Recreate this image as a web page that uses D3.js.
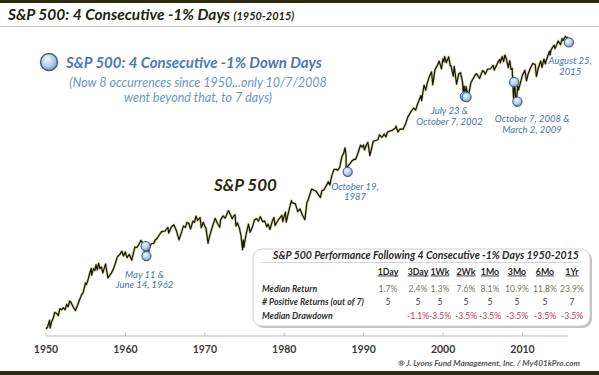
<!DOCTYPE html>
<html>
<head>
<meta charset="utf-8">
<script src="https://cdn.jsdelivr.net/npm/d3@7"></script>
<style>
  body { margin: 0; background: #fff; }
  svg { display: block; font-family: Lato, "Open Sans", sans-serif; }
</style>
</head>
<body>
<svg id="chart" width="599" height="375"></svg>
<script>
// ===============================
// Dades (S&P 500, lectura aproximada del gràfic)
// ===============================
const dates = [
  1950.00,1950.20,1950.45,1950.52,1950.70,1950.95,1951.10,1951.40,1951.55,1951.75,1951.95,
  1952.20,1952.40,1952.60,1952.80,1952.98,1953.10,1953.45,1953.70,1953.98,1954.20,1954.45,
  1954.70,1954.98,1955.10,1955.30,1955.55,1955.70,1955.75,1955.98,1956.15,1956.30,1956.45,
  1956.62,1956.80,1956.98,1957.15,1957.50,1957.80,1957.98,1958.20,1958.50,1958.75,1958.98,
  1959.30,1959.55,1959.75,1959.98,1960.20,1960.50,1960.80,1960.98,1961.20,1961.45,1961.70,
  1961.95,1962.15,1962.36,1962.48,1962.70,1962.82,1962.98,1963.25,1963.55,1963.75,1963.98,
  1964.30,1964.55,1964.98,1965.35,1965.46,1965.75,1966.10,1966.40,1966.75,1966.98,1967.30,
  1967.55,1967.75,1967.98,1968.20,1968.50,1968.70,1968.90,1969.10,1969.40,1969.55,1969.80,
  1969.98,1970.15,1970.40,1970.60,1970.98,1971.30,1971.60,1971.87,1971.98,1972.30,1972.55,
  1972.98,1973.20,1973.45,1973.60,1973.80,1973.92,1974.10,1974.35,1974.55,1974.75,1974.85,
  1974.93,1974.98,1975.25,1975.50,1975.70,1975.98,1976.25,1976.50,1976.75,1976.98,1977.30,
  1977.55,1977.80,1977.98,1978.20,1978.50,1978.70,1978.85,1978.98,1979.30,1979.70,1979.82,
  1979.98,1980.15,1980.25,1980.60,1980.90,1980.98,1981.40,1981.70,1981.98,1982.30,1982.60,
  1982.85,1982.98,1983.45,1983.80,1983.98,1984.40,1984.55,1984.75,1984.98,1985.30,1985.55,
  1985.75,1985.98,1986.25,1986.55,1986.70,1986.98,1987.25,1987.50,1987.65,1987.78,1987.80,
  1987.98,1988.30,1988.55,1988.80,1988.98,1989.30,1989.60,1989.80,1989.98,1990.10,1990.40,
  1990.53,1990.78,1990.98,1991.20,1991.50,1991.80,1991.98,1992.30,1992.60,1992.80,1992.98,
  1993.30,1993.60,1993.98,1994.08,1994.30,1994.60,1994.98,1995.30,1995.55,1995.98,1996.30,
  1996.55,1996.80,1996.98,1997.20,1997.30,1997.60,1997.82,1997.98,1998.30,1998.55,1998.70,
  1998.98,1999.30,1999.50,1999.80,1999.98,2000.10,2000.20,2000.40,2000.70,2000.90,2000.98,
  2001.20,2001.28,2001.40,2001.70,2001.98,2002.20,2002.45,2002.56,2002.65,2002.77,2002.90,
  2002.98,2003.20,2003.50,2003.98,2004.20,2004.60,2004.98,2005.20,2005.30,2005.60,2005.98,
  2006.30,2006.45,2006.98,2007.15,2007.20,2007.45,2007.62,2007.78,2007.98,2008.20,2008.40,
  2008.55,2008.70,2008.77,2008.88,2008.95,2008.98,2009.05,2009.17,2009.19,2009.40,2009.50,
  2009.98,2010.30,2010.50,2010.70,2010.98,2011.30,2011.60,2011.75,2011.98,2012.30,2012.45,
  2012.70,2012.88,2012.98,2013.40,2013.47,2013.60,2013.98,2014.09,2014.50,2014.79,2014.98,
  2015.10,2015.39,2015.55,2015.62,2015.65
];
const closes = [
  16.7,17.3,19.3,17.0,18.8,20.4,22.0,21.5,20.9,23.4,23.0,
  23.8,23.0,25.2,24.2,26.6,26.2,24.0,22.7,24.8,26.9,29.2,
  30.9,35.9,35.0,37.9,43.0,45.6,40.8,45.5,44.1,48.5,44.6,
  49.7,45.5,46.7,42.4,49.1,39.0,40.3,42.0,45.3,49.9,55.2,
  57.6,60.7,56.1,59.9,54.6,57.5,52.3,58.1,65.1,64.5,68.0,
  72.6,70.0,63.0,52.3,58.0,53.5,63.1,68.7,69.1,73.0,75.0,
  80.0,84.0,84.8,90.0,82.0,90.0,94.0,86.0,73.2,80.3,92.0,
  90.0,97.6,96.5,87.7,100.0,98.0,108.4,101.0,106.0,89.5,98.0,
  92.1,89.0,69.3,78.0,92.2,104.6,96.0,90.2,102.1,109.0,105.0,
  119.0,112.0,104.0,108.0,111.0,92.0,97.0,89.0,79.0,62.3,73.0,
  65.0,68.6,83.0,95.0,83.0,90.2,102.0,104.0,100.0,107.5,99.0,
  100.0,91.0,95.1,87.0,100.0,106.0,93.0,96.1,103.0,110.0,99.0,
  107.9,116.0,98.2,120.0,140.5,135.8,133.0,117.0,122.6,110.0,102.4,
  136.0,140.6,170.0,166.0,164.9,152.0,147.8,166.0,167.2,180.0,192.0,
  182.0,211.3,235.0,236.0,232.0,242.2,290.0,310.0,336.8,300.0,224.8,
  247.1,260.0,272.0,278.0,277.7,310.0,352.0,340.0,353.4,325.0,360.0,
  368.9,295.5,330.2,375.0,380.0,385.0,417.1,400.0,424.0,403.0,435.7,
  445.0,450.0,466.5,482.0,438.0,460.0,459.3,505.0,560.0,615.9,650.0,
  630.0,700.0,740.7,800.0,737.0,950.0,876.0,970.4,1110.0,1186.0,957.0,
  1229.2,1330.0,1418.0,1247.0,1469.3,1400.0,1527.0,1380.0,1520.0,1315.0,1320.3,
  1160.0,1103.0,1300.0,965.8,1148.1,1170.0,1000.0,797.0,937.0,776.8,930.0,
  879.8,800.7,990.0,1111.9,1150.0,1065.0,1211.9,1180.0,1140.0,1240.0,1248.3,
  1320.0,1223.0,1418.3,1460.0,1375.0,1530.0,1406.0,1565.2,1468.4,1273.0,1426.0,
  1234.0,1255.0,996.2,752.4,900.0,903.3,930.0,700.8,676.5,940.0,880.0,
  1115.1,1217.0,1022.0,1140.0,1257.6,1363.0,1340.0,1099.2,1257.6,1419.0,1278.0,
  1465.0,1353.0,1426.2,1669.0,1573.0,1709.0,1848.4,1741.9,1978.0,1862.0,2058.9,
  1992.0,2130.8,2080.0,2102.0,1867.6
];

// Esdeveniments: 4 dies consecutius de -1%
const eventDates  = [1962.36, 1962.46, 1987.80, 2002.56, 2002.77, 2008.77, 2009.17, 2015.65];
const eventValues = [66, 56, 226, 790, 780, 1000, 725, 1930];
const eventLabels = [
  { x: 1962.4, v: 39, lines: ["May 11 &", "June 14, 1962"] },
  { x: 1988.9, v: 168, lines: ["October 19,", "1987"] },
  { x: 2000.8, v: 585, lines: ["July 23 &", "October 7, 2002"] },
  { x: 2011.2, v: 515, lines: ["October 7, 2008 &", "March 2, 2009"] },
  { x: 2016.0, v: 1345, lines: ["August 25,", "2015"] }
];

const tickYears = [1950, 1960, 1970, 1980, 1990, 2000, 2010];

// Taula
const tableCols = ["1Day", "3Day", "1Wk", "2Wk", "1Mo", "3Mo", "6Mo", "1Yr"];
const medianReturn = ["1.7%", "2.4%", "1.3%", "7.6%", "8.1%", "10.9%", "11.8%", "23.9%"];
const positiveReturns = ["5", "5", "5", "5", "5", "5", "5", "7"];
const medianDrawdown = ["", "-1.1%", "-3.5%", "-3.5%", "-3.5%", "-3.5%", "-3.5%", "-3.5%"];

// ===============================
// Escales
// ===============================
const svg = d3.select("#chart");
const W = 599, H = 375;

const x = d3.scaleLinear().domain([1950, 2010]).range([46, 522.5]);
const y = d3.scaleLog().domain([17, 2130]).range([328, 36.5]);

const series = dates.map((d, i) => ({ t: d, v: closes[i] }));

// Gradient dels marcadors
const defs = svg.append("defs");
const grad = defs.append("radialGradient")
  .attr("id", "dot").attr("cx", "40%").attr("cy", "35%").attr("r", "65%");
grad.append("stop").attr("offset", "0%").attr("stop-color", "#f2f6fc");
grad.append("stop").attr("offset", "60%").attr("stop-color", "#b7cbea");
grad.append("stop").attr("offset", "100%").attr("stop-color", "#7f9fd0");

// ===============================
// Capçalera
// ===============================
svg.append("rect").attr("x", 0).attr("y", 0).attr("width", W).attr("height", 3).attr("fill", "#2c2b12");
svg.append("line").attr("x1", 0).attr("x2", W).attr("y1", 26.5).attr("y2", 26.5)
  .attr("stroke", "#c8c8c8").attr("stroke-width", 1);

const title = svg.append("text")
  .attr("x", 8).attr("y", 20)
  .style("font-weight", "bold").style("font-style", "italic")
  .style("fill", "#1e2410");
title.append("tspan").style("font-size", "15.5px").text("S&P 500: 4 Consecutive -1% Days ");
title.append("tspan").style("font-size", "11px").text("(1950-2015)");

// ===============================
// Eix X
// ===============================
svg.append("line")
  .attr("x1", x(1950)).attr("x2", 568).attr("y1", 336).attr("y2", 336)
  .attr("stroke", "#bdbdbd");

svg.selectAll(".tick")
  .data(tickYears)
  .enter()
  .append("line")
  .attr("x1", d => x(d)).attr("x2", d => x(d))
  .attr("y1", 333).attr("y2", 336)
  .attr("stroke", "#bdbdbd");

svg.selectAll(".tick-label")
  .data(tickYears)
  .enter()
  .append("text")
  .attr("x", d => x(d)).attr("y", 353)
  .attr("text-anchor", "middle")
  .text(d => d)
  .style("font-size", "10.5px").style("font-weight", "bold")
  .style("fill", "#3a3a3a");

// ===============================
// Línia S&P 500
// ===============================
const line = d3.line().x(d => x(d.t)).y(d => y(d.v));

svg.append("path").datum(series)
  .attr("d", line).attr("fill", "none")
  .attr("stroke", "#b3ad5a").attr("stroke-width", 2.6).attr("stroke-opacity", 0.6)
  .attr("stroke-linejoin", "round");
svg.append("path").datum(series)
  .attr("d", line).attr("fill", "none")
  .attr("stroke", "#15150a").attr("stroke-width", 1.2)
  .attr("stroke-linejoin", "round");

svg.append("text")
  .attr("x", 214).attr("y", 191)
  .text("S&P 500")
  .style("font-size", "17px").style("font-weight", "bold").style("font-style", "italic")
  .style("fill", "#2a2a10");

// ===============================
// Marcadors
// ===============================
svg.selectAll(".event")
  .data(eventDates)
  .enter()
  .append("circle")
  .attr("cx", d => x(d) + 1.5)
  .attr("cy", (d, i) => y(eventValues[i]))
  .attr("r", 4.6)
  .attr("fill", "url(#dot)")
  .attr("stroke", "#3e5f96").attr("stroke-width", 1.1);

const labels = svg.selectAll(".event-label")
  .data(eventLabels)
  .enter()
  .append("text")
  .attr("text-anchor", "middle")
  .style("font-size", "9.5px").style("font-style", "italic")
  .style("fill", "#4a72b0");

labels.selectAll("tspan")
  .data(d => d.lines.map((l, k) => ({ l, k, d })))
  .enter()
  .append("tspan")
  .attr("x", o => x(o.d.x))
  .attr("y", o => y(o.d.v) + o.k * 10.5)
  .text(o => o.l);

// ===============================
// Llegenda
// ===============================
svg.append("circle")
  .attr("cx", 49).attr("cy", 62).attr("r", 8.5)
  .attr("fill", "url(#dot)").attr("stroke", "#3e5f96").attr("stroke-width", 1.5);

svg.append("text")
  .attr("x", 66).attr("y", 68)
  .text("S&P 500: 4 Consecutive -1% Down Days")
  .style("font-size", "15px").style("font-weight", "bold").style("font-style", "italic")
  .style("fill", "#4a78bd");

svg.append("text")
  .attr("x", 198).attr("y", 87)
  .attr("text-anchor", "middle")
  .style("font-size", "12.5px").style("font-style", "italic").style("fill", "#6b93cf")
  .selectAll("tspan")
  .data(["(Now 8 occurrences since 1950...only 10/7/2008", "went beyond that, to 7 days)"])
  .enter()
  .append("tspan")
  .attr("x", 198).attr("dy", (d, i) => i === 0 ? 0 : 14.5)
  .text(d => d);

// ===============================
// Taula de rendiment
// ===============================
const box = { x: 253, y: 249, w: 337, h: 77 };
svg.append("rect")
  .attr("x", box.x + 2).attr("y", box.y + 2).attr("width", box.w).attr("height", box.h)
  .attr("rx", 9).attr("fill", "#9a9a9a").attr("opacity", 0.6);
svg.append("rect")
  .attr("x", box.x).attr("y", box.y).attr("width", box.w).attr("height", box.h)
  .attr("rx", 9).attr("fill", "#fff").attr("stroke", "#cfcfcf");

svg.append("text")
  .attr("x", 426).attr("y", 259).attr("text-anchor", "middle")
  .text("S&P 500 Performance Following 4 Consecutive -1% Days 1950-2015")
  .style("font-size", "10.5px").style("font-weight", "bold").style("font-style", "italic")
  .style("fill", "#2a2a2a");
svg.append("line")
  .attr("x1", 261).attr("x2", 578).attr("y1", 262.5).attr("y2", 262.5)
  .attr("stroke", "#d4d4d4");

// Columnes d'amplada desigual, com a la taula original
const colX = d3.scaleOrdinal()
  .domain(tableCols)
  .range([388, 418, 440, 466, 490, 517, 545, 572]);

svg.selectAll(".col-head")
  .data(tableCols)
  .enter()
  .append("text")
  .attr("x", d => colX(d)).attr("y", 274.5).attr("text-anchor", "middle")
  .text(d => d)
  .style("font-size", "8.8px").style("font-weight", "bold")
  .style("text-decoration", "underline").style("fill", "#2a2a2a");

const rows = [
  { label: "Median Return", values: medianReturn, color: "#76765f", y: 291.5 },
  { label: "# Positive Returns (out of 7)", values: positiveReturns, color: "#3a3a3a", y: 305 },
  { label: "Median Drawdown", values: medianDrawdown, color: "#bb3b4d", y: 318.5 }
];

rows.forEach(r => {
  svg.append("text")
    .attr("x", 262).attr("y", r.y)
    .text(r.label)
    .style("font-size", "8.8px").style("font-weight", "bold").style("font-style", "italic")
    .style("fill", "#2f2f2f");
  svg.selectAll(null)
    .data(r.values)
    .enter()
    .append("text")
    .attr("x", (d, i) => colX(tableCols[i])).attr("y", r.y).attr("text-anchor", "middle")
    .text(d => d)
    .style("font-size", "8.6px").style("fill", r.color);
});

// ===============================
// Peu
// ===============================
svg.append("text")
  .attr("x", 580).attr("y", 366).attr("text-anchor", "end")
  .text("® J. Lyons Fund Management, Inc. / My401kPro.com")
  .style("font-size", "8.2px").style("font-weight", "bold").style("font-style", "italic")
  .style("fill", "#555");

svg.append("rect").attr("x", 0).attr("y", 371).attr("width", W).attr("height", 4).attr("fill", "#2c2b12");
</script>
</body>
</html>
